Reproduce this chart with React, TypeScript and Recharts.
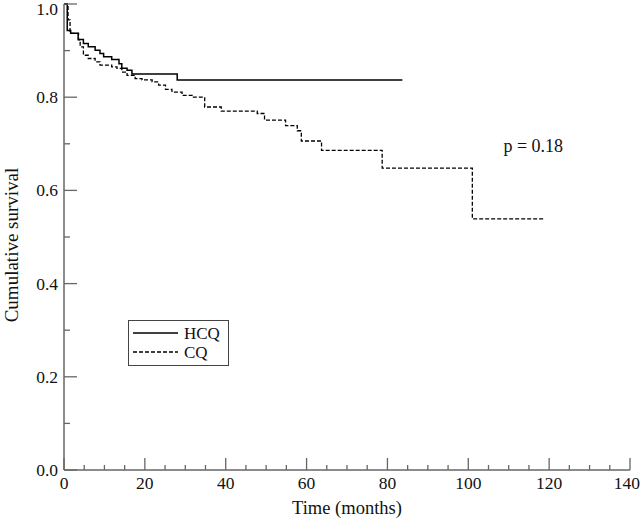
import React from 'react'
import { LineChart, Line, XAxis, YAxis, Legend, ReferenceDot } from 'recharts'

// Kaplan-Meier steps: [months, cumulative survival]
const hcqTimes = [0, 0.8, 1.65, 3.5, 4.8, 6.0, 7.7, 8.9, 9.8, 11.8, 13.6, 14.3, 15.6, 16.8, 28.0, 83.7]
const hcqSurvival = [1.0, 0.943, 0.937, 0.924, 0.915, 0.908, 0.901, 0.894, 0.887, 0.881, 0.872, 0.862, 0.858, 0.85, 0.837, 0.837]

const cqTimes = [
  0, 1.0, 1.5, 3.6, 4.0, 4.8, 6.0, 7.7, 8.9, 11.8, 13.1, 14.3, 15.6, 17.6, 19.3, 21.8, 23.4, 25.1,
  26.7, 29.2, 31.7, 34.8, 38.9, 47.8, 49.6, 54.8, 57.7, 58.7, 63.7, 78.7, 101.0, 118.9,
]
const cqSurvival = [
  1.0, 0.966, 0.937, 0.923, 0.908, 0.89, 0.883, 0.876, 0.869, 0.865, 0.862, 0.854, 0.847, 0.84, 0.837,
  0.833, 0.826, 0.817, 0.811, 0.804, 0.8, 0.779, 0.77, 0.765, 0.751, 0.739, 0.728, 0.706, 0.686, 0.648,
  0.539, 0.539,
]

const xTicks = [0, 5, 10, 15, 20, 25, 30, 35, 40, 45, 50, 55, 60, 65, 70, 75, 80, 85, 90, 95, 100, 105, 110, 115, 120, 125, 130, 135, 140]
const xLabels = [0, 20, 40, 60, 80, 100, 120, 140]
const yTicks = [0, 0.1, 0.2, 0.3, 0.4, 0.5, 0.6, 0.7, 0.8, 0.9, 1.0]
const yLabels = ['0.0', '0.2', '0.4', '0.6', '0.8', '1.0']

const hcqData = hcqTimes.map((t, i) => ({ t, s: hcqSurvival[i] }))
const cqData = cqTimes.map((t, i) => ({ t, s: cqSurvival[i] }))

const font = "'Liberation Serif', 'Times New Roman', serif"
const axisColor = '#666'

function XTick(props: any) {
  const { x, y, payload } = props
  const major = xLabels.includes(payload.value)
  // last label sits against the right edge of the figure
  const last = payload.value === 140
  return (
    <g>
      <line x1={x} x2={x} y1={y} y2={y - (major ? 12 : 5)} stroke={axisColor} strokeWidth={1.3} />
      {major && (
        <text
          x={last ? x + 10 : x}
          y={y + 19}
          textAnchor={last ? 'end' : 'middle'}
          fontSize={17.5}
          fontFamily={font}
          fill="#111"
        >
          {payload.value}
        </text>
      )}
    </g>
  )
}

function YTick(props: any) {
  const { x, y, payload } = props
  const label = payload.value.toFixed(1)
  const major = yLabels.includes(label)
  const ty = Math.max(y, 9)
  return (
    <g>
      <line x1={x} x2={x + (major ? 13 : 6)} y1={y} y2={y} stroke={axisColor} strokeWidth={1.3} />
      {major && (
        <text x={x - 6} y={ty} dy={6} textAnchor="end" fontSize={17.5} fontFamily={font} fill="#111">
          {label}
        </text>
      )}
    </g>
  )
}

function LegendBox() {
  return (
    <svg width={101} height={46} style={{ display: 'block' }}>
      <rect x={0.5} y={0.5} width={100} height={45} fill="#fff" stroke="#444" strokeWidth={1} />
      <line x1={5} x2={50} y1={13} y2={13} stroke="#000" strokeWidth={1.5} />
      <text x={56} y={13} dy={6} fontSize={17} fontFamily={font} fill="#111">HCQ</text>
      <line x1={5} x2={50} y1={32} y2={32} stroke="#000" strokeWidth={1.3} strokeDasharray="4 2" />
      <text x={56} y={32} dy={6} fontSize={17} fontFamily={font} fill="#111">CQ</text>
    </svg>
  )
}

export default function App() {
  return (
    <div style={{ position: 'absolute', left: 0, top: 0, background: '#fff' }}>
      <LineChart width={640} height={519} margin={{ top: 4, right: 10, bottom: 0, left: 0 }}>
        <XAxis
          type="number"
          dataKey="t"
          domain={[0, 140]}
          ticks={xTicks}
          interval={0}
          tickSize={0}
          tickMargin={0}
          tick={<XTick />}
          height={49}
          axisLine={{ stroke: axisColor, strokeWidth: 1.5 }}
          label={{ value: 'Time (months)', position: 'insideBottom', offset: 5, fontSize: 18.5, fontFamily: font, fill: '#111' }}
        />
        <YAxis
          type="number"
          dataKey="s"
          domain={[0, 1]}
          ticks={yTicks}
          interval={0}
          tickSize={0}
          tickMargin={0}
          tick={<YTick />}
          width={64}
          axisLine={{ stroke: axisColor, strokeWidth: 1.5 }}
          label={{
            content: (p: any) => {
              const vb = p.viewBox
              const cy = vb.y + vb.height / 2 + 8
              return (
                <text x={18} y={cy} transform={`rotate(-90, 18, ${cy})`} textAnchor="middle" fontSize={19} fontFamily={font} fill="#111">
                  Cumulative survival
                </text>
              )
            },
          }}
        />
        <Line
          data={hcqData}
          dataKey="s"
          type="stepAfter"
          stroke="#000"
          strokeWidth={1.5}
          dot={false}
          isAnimationActive={false}
          name="HCQ"
        />
        <Line
          data={cqData}
          dataKey="s"
          type="stepAfter"
          stroke="#000"
          strokeWidth={1.3}
          strokeDasharray="4 2"
          dot={false}
          isAnimationActive={false}
          name="CQ"
        />
        <ReferenceDot
          x={108.7}
          y={0.696}
          r={0}
          fill="none"
          stroke="none"
          label={{ value: 'p = 0.18', position: 'right', offset: 0, fontSize: 18, fontFamily: font, fill: '#111' }}
        />
        <Legend
          layout="vertical"
          verticalAlign="middle"
          align="center"
          content={() => <LegendBox />}
          wrapperStyle={{ position: 'absolute', left: 128, top: 320, width: 101, height: 46 }}
        />
      </LineChart>
    </div>
  )
}
